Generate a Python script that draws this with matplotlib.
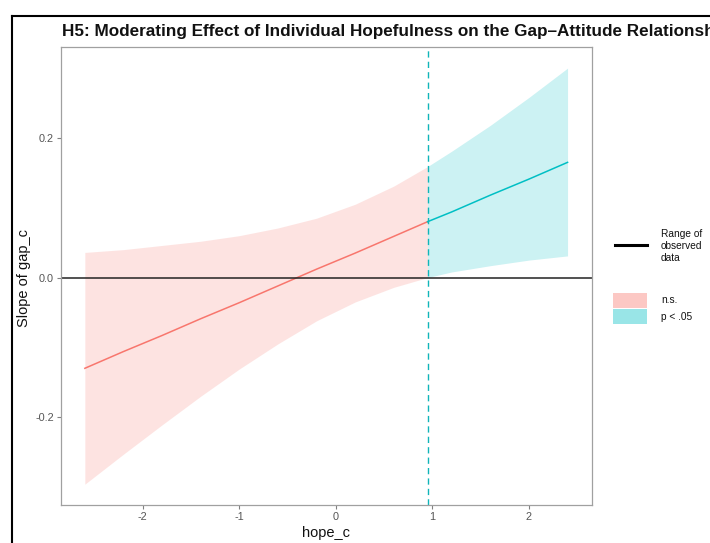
import matplotlib
matplotlib.use("Agg")
import matplotlib.pyplot as plt
from matplotlib.lines import Line2D
from matplotlib.patches import Rectangle
import numpy as np

plt.rcParams['font.family'] = ['Liberation Sans', 'DejaVu Sans']
plt.rcParams['axes.unicode_minus'] = False

# Johnson-Neyman values
hope_c = [-2.6, -2.2, -1.8, -1.4, -1.0, -0.6, -0.2, 0.2, 0.6, 0.95, 1.2, 1.6, 2.0, 2.4]
slope = [-0.130, -0.106, -0.083, -0.059, -0.036, -0.012, 0.012, 0.035, 0.059, 0.080, 0.094, 0.118, 0.141, 0.165]
lower = [-0.296, -0.253, -0.211, -0.170, -0.131, -0.095, -0.062, -0.035, -0.014, 0.000, 0.008, 0.017, 0.025, 0.031]
upper = [0.036, 0.040, 0.046, 0.052, 0.060, 0.071, 0.085, 0.105, 0.131, 0.159, 0.181, 0.218, 0.258, 0.300]
jn_point = 0.95

x_ticks = [-2, -1, 0, 1, 2]
y_ticks = [-0.2, 0.0, 0.2]

red = '#F8766D'
cyan = '#00BFC4'

x = np.array(hope_c)
y = np.array(slope)
lo = np.array(lower)
hi = np.array(upper)
ns = x <= jn_point
sig = x >= jn_point

W, H = 710, 543
fig = plt.figure(figsize=(W / 100, H / 100), dpi=100)
ax = fig.add_axes([60.7 / W, 1 - 505 / H, 531 / W, 457.7 / H])

ax.fill_between(x[ns], lo[ns], hi[ns], color=red, alpha=0.2, lw=0)
ax.fill_between(x[sig], lo[sig], hi[sig], color=cyan, alpha=0.2, lw=0)
ax.plot(x[ns], y[ns], color=red, lw=1.1)
ax.plot(x[sig], y[sig], color=cyan, lw=1.1)
ax.axhline(0, color='#222222', lw=1.1)
ax.axvline(jn_point, color='#10B5B9', lw=1.0, ls=(0, (4.5, 3)))

# ggplot-style 5% expansion
xr = x.max() - x.min()
ax.set_xlim(x.min() - 0.05 * xr, x.max() + 0.05 * xr)
yr = hi.max() - lo.min()
ax.set_ylim(lo.min() - 0.05 * yr, hi.max() + 0.05 * yr)

ax.set_xticks(x_ticks)
ax.set_xticklabels([str(v) for v in x_ticks])
ax.set_yticks(y_ticks)
ax.set_yticklabels(['%.1f' % v for v in y_ticks])
ax.tick_params(length=3, width=0.8, color='#808080', labelsize=7.8,
               labelcolor='#555555', pad=2)
for s in ax.spines.values():
    s.set_color('#a0a0a0')
    s.set_linewidth(0.9)

ax.set_xlabel('hope_c', fontsize=10.5, color='#111111', labelpad=3)
ax.set_ylabel('Slope of gap_c', fontsize=10.5, color='#111111')
ax.yaxis.set_label_coords(-0.055, 0.495)

fig.text(62 / W, 1 - 36 / H, 'H5: Moderating Effect of Individual Hopefulness on the Gap\u2013Attitude Relationship',
         fontsize=12.3, fontweight='bold', ha='left', va='baseline', color='#111111')

# legend
fig.add_artist(Line2D([615 / W, 647 / W], [1 - 245 / H, 1 - 245 / H], color='black', lw=2.2))
fig.text(661 / W, 1 - 246 / H, 'Range of\nobserved\ndata', fontsize=7.3, ha='left', va='center',
         color='#111111', linespacing=1.3)
fig.add_artist(Rectangle((613 / W, 1 - 308 / H), 34 / W, 15 / H, facecolor=red, alpha=0.4,
                         lw=0, transform=fig.transFigure))
fig.add_artist(Rectangle((613 / W, 1 - 324 / H), 34 / W, 15 / H, facecolor=cyan, alpha=0.4,
                         lw=0, transform=fig.transFigure))
fig.text(661 / W, 1 - 300 / H, 'n.s.', fontsize=7.3, ha='left', va='center', color='#111111')
fig.text(661 / W, 1 - 317 / H, 'p < .05', fontsize=7.3, ha='left', va='center', color='#111111')

# outer frame of the screenshot
fig.add_artist(Line2D([11.5 / W, 11.5 / W], [0, 1 - 16 / H], color='black', lw=1.5))
fig.add_artist(Line2D([11.5 / W, 1], [1 - 16 / H, 1 - 16 / H], color='black', lw=1.5))

fig.savefig('out.png', dpi=100)
